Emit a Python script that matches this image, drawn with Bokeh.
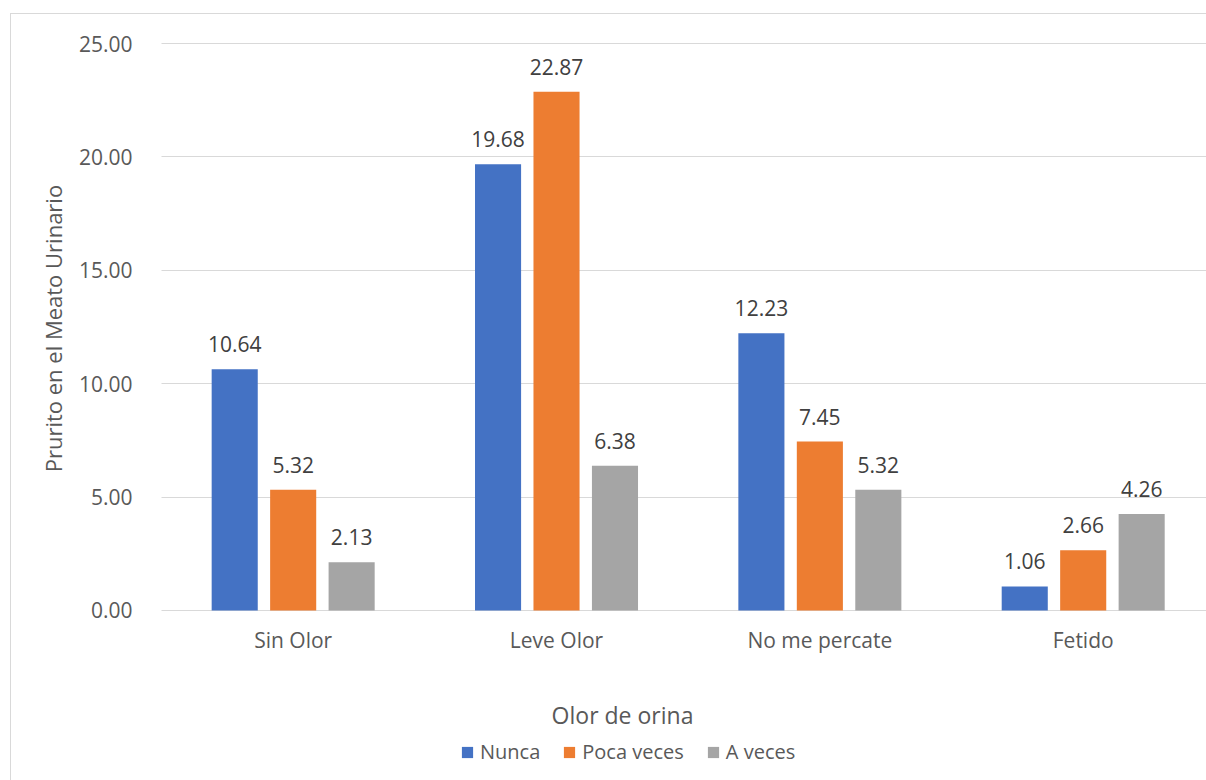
import math
from bokeh.plotting import figure
from bokeh.models import (ColumnDataSource, Range1d, FixedTicker, Legend, LegendItem, Label, Grid)
from bokeh.core.properties import value
from bokeh.embed import file_html
from bokeh.resources import INLINE

categories = ["Sin Olor", "Leve Olor", "No me percate", "Fetido"]
series_names = ["Nunca", "Poca veces", "A veces"]
nunca = [10.64, 19.68, 12.23, 1.06]
poca_veces = [5.32, 22.87, 7.45, 2.66]
a_veces = [2.13, 6.38, 5.32, 4.26]
y_ticks = [0, 5, 10, 15, 20, 25]
x_title = "Olor de orina"
y_title = "Prurito en el Meato Urinario"

colors = ["#4472C4", "#ED7D31", "#A5A5A5"]
offsets = [-0.222, 0.0, 0.222]
bar_w = 0.175
FONT = "Open Sans"
TXT = "#595959"
X_END = 3.972

p = figure(width=1196, height=767, output_backend="svg", toolbar_location=None,
           x_range=Range1d(-0.5696, X_END), y_range=Range1d(-7.54, 26.279),
           min_border_left=0, min_border_right=0, min_border_top=0, min_border_bottom=0,
           margin=(13, 0, 0, 10),
           styles={"border-left": "1px solid #d9d9d9", "border-top": "1px solid #d9d9d9"})
p.outline_line_color = None
p.background_fill_color = "white"
p.border_fill_color = "white"

# axes placed at fixed data locations
p.xaxis.fixed_location = 0
p.yaxis.fixed_location = 0
p.xaxis.ticker = FixedTicker(ticks=[i + 0.5 for i in range(len(categories))])
p.xaxis.major_label_overrides = {i + 0.5: c for i, c in enumerate(categories)}
p.yaxis.ticker = FixedTicker(ticks=y_ticks)
p.yaxis.major_label_overrides = {t: f"{t:.2f}" for t in y_ticks}
for ax in (p.xaxis[0], p.yaxis[0]):
    ax.axis_line_color = None
    ax.major_tick_line_color = None
    ax.minor_tick_line_color = None
    ax.major_label_text_font = FONT
    ax.major_label_text_font_size = "21px"
    ax.major_label_text_color = TXT
p.yaxis.major_label_standoff = 23
p.xaxis.major_label_standoff = 10
p.xgrid.grid_line_color = None

if "cross_bounds" in Grid.properties():
    p.ygrid.grid_line_color = "#D9D9D9"
    p.ygrid.grid_line_width = 1
    p.ygrid.cross_bounds = (0, X_END)
else:
    p.ygrid.grid_line_color = None
    p.segment(x0=[0] * len(y_ticks), x1=[X_END] * len(y_ticks), y0=y_ticks, y1=y_ticks,
              line_color="#D9D9D9", line_width=1)

all_series = [nunca, poca_veces, a_veces]
items = []
for k, (name, vals) in enumerate(zip(series_names, all_series)):
    src = ColumnDataSource(dict(
        x=[i + 0.5 + offsets[k] for i in range(len(categories))],
        top=vals,
        lab=[f"{v:.2f}" for v in vals],
    ))
    r = p.vbar(x="x", top="top", bottom=0, width=bar_w, source=src,
               fill_color=colors[k], line_color=None)
    p.text(x="x", y="top", text="lab", source=src, y_offset=-25,
           text_align="center", text_baseline="middle",
           text_font=value(FONT), text_font_size="21px", text_color="#404040")
    items.append(LegendItem(label=name, renderers=[r]))

legend = Legend(items=items, orientation="horizontal", location=(449, 16),
                glyph_width=14, glyph_height=14, label_standoff=6, spacing=22,
                padding=0, margin=0, border_line_color=None, background_fill_alpha=0,
                label_text_font=FONT, label_text_font_size="20px", label_text_color=TXT)
p.add_layout(legend, "center")

p.add_layout(Label(x=1.7506, y=-4.586, text=x_title, text_align="center",
                   text_baseline="middle", text_font=FONT, text_font_size="23px",
                   text_color=TXT))
p.add_layout(Label(x=-0.413, y=12.43, text=y_title, angle=math.pi / 2,
                   text_align="center", text_baseline="middle", text_font=FONT,
                   text_font_size="22px", text_color=TXT))

open("out.html", "w").write(file_html(p, INLINE))
